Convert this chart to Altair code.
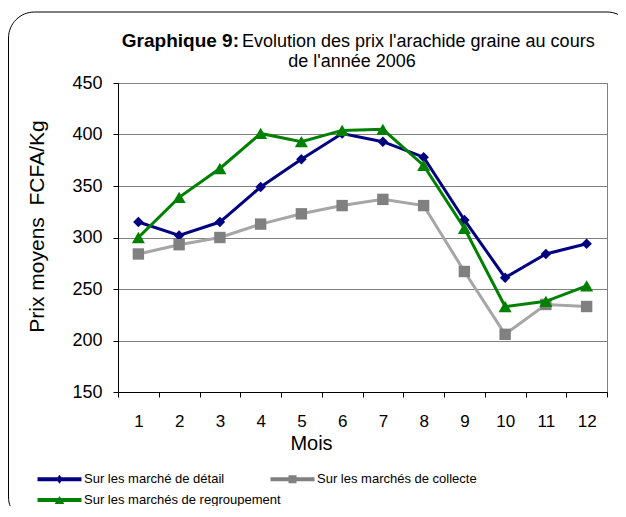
import altair as alt
import pandas as pd

# ---------------- data ----------------
months = list(range(1, 13))
series = [
    "Sur les marché de détail",
    "Sur les marchés de collecte",
    "Sur les marchés de regroupement",
]
detail = [315, 302, 315, 349, 376, 401, 393, 378, 317, 261, 284, 294]
collecte = [284, 293, 300, 313, 323, 331, 337, 331, 267, 206, 235, 233]
regroupement = [300, 339, 367, 401, 393, 404, 405, 370, 309, 233, 238, 253]
y_ticks = [150, 200, 250, 300, 350, 400, 450]

title_bold = "Graphique 9:"
title_line1 = "Evolution des prix l'arachide graine au cours"
title_line2 = "de l'année 2006"
x_title = "Mois"
y_title = "Prix moyens\u00a0\u00a0FCFA/Kg"

# ---------------- styles ----------------
FONT = "Liberation Sans"
line_colors = ["#000080", "#A6A6A6", "#008000"]
marker_colors = ["#000080", "#808080", "#008000"]
shapes = ["diamond", "square", "triangle-up"]
marker_sizes = [110, 130, 170]
legend_paths = [
    "M-5.5,-0.5L5.5,-0.5L5.5,0.5L-5.5,0.5Z M0,-1.1L0.8,0L0,1.1L-0.8,0Z",
    "M-5.5,-0.5L5.5,-0.5L5.5,0.5L-5.5,0.5Z M-1,-1L1,-1L1,1L-1,1Z",
    "M-5.5,-0.5L5.5,-0.5L5.5,0.5L-5.5,0.5Z M0,-1L1.2,1L-1.2,1Z",
]

rows = []
for name, vals in zip(series, [detail, collecte, regroupement]):
    for m, v in zip(months, vals):
        rows.append({"mois": m, "prix": v, "serie": name})
df = pd.DataFrame(rows)

x_tick_values = sorted(set([m - 0.5 for m in months] + [months[-1] + 0.5] + months))

x_enc = alt.X(
    "mois:Q",
    scale=alt.Scale(domain=[0.5, 12.5], nice=False, zero=False),
    axis=alt.Axis(
        values=x_tick_values,
        labelExpr="datum.value % 1 == 0 ? '' + datum.value : ''",
        tickOpacity={"condition": {"test": "datum.value % 1 == 0", "value": 0}, "value": 1},
        grid=False,
        labelOverlap=False,
        labelFlush=False,
        labelFontSize=17,
        labelBaseline="alphabetic",
        labelPadding=29,
        tickSize=5,
        tickColor="black",
        domainColor="black",
        labelColor="black",
        title=x_title,
        titleFontSize=20,
        titleFontWeight="normal",
        titleX=193,
        titleY=57,
        titleBaseline="alphabetic",
        titleAlign="center",
        titleColor="black",
    ),
)
y_enc = alt.Y(
    "prix:Q",
    scale=alt.Scale(domain=[150, 450], nice=False, zero=False),
    axis=alt.Axis(
        values=y_ticks,
        labelFontSize=18,
        labelPadding=11,
        tickSize=5,
        tickColor="black",
        domainColor="black",
        labelColor="black",
        gridColor="#808080",
        title=y_title,
        titleFontSize=21,
        titleFontWeight="normal",
        titleX=-75,
        titleY=143,
        titleAngle=-90,
        titleBaseline="alphabetic",
        titleAlign="center",
        titleColor="black",
    ),
)

layers = []

# outer rounded frame
frame = alt.Chart(pd.DataFrame({"k": [0]})).mark_rect(
    fill=None, stroke="black", strokeWidth=1, cornerRadius=26
).encode(
    x=alt.value(-109.5), x2=alt.value(515), y=alt.value(-71), y2=alt.value(440)
)
layers.append(frame)

for i, name in enumerate(series):
    base = alt.Chart(df).transform_filter(alt.datum.serie == name)
    layers.append(
        base.mark_line(strokeWidth=3, color=line_colors[i]).encode(x=x_enc, y=y_enc)
    )
    layers.append(
        base.mark_point(
            filled=True, shape=shapes[i], size=marker_sizes[i],
            color=marker_colors[i], opacity=1
        ).encode(x=x_enc, y=y_enc)
    )

legend_def = dict(
    title=None,
    orient="none",
    direction="horizontal",
    legendX=-65,
    legendY=389.5,
    columns=2,
    columnPadding=-11,
    rowPadding=7,
    padding=0,
    symbolSize=64,
    symbolStrokeWidth=0,
    labelOffset=18,
    labelFont=FONT,
    labelFontSize=13,
    labelColor="black",
    labelLimit=400,
)

# legend carrier (no visible marks)
legend_layer = alt.Chart(df).transform_filter("false").mark_point(
    filled=True, opacity=1
).encode(
    x=x_enc,
    y=y_enc,
    color=alt.Color(
        "serie:N",
        scale=alt.Scale(domain=series, range=marker_colors),
        legend=alt.Legend(**legend_def),
    ),
    shape=alt.Shape(
        "serie:N",
        scale=alt.Scale(domain=series, range=legend_paths),
        legend=alt.Legend(**legend_def),
    ),
)
layers.append(legend_layer)

# title texts
t1 = alt.Chart(pd.DataFrame({"t": [title_bold]})).mark_text(
    font=FONT, fontSize=19, fontWeight="bold", align="right", baseline="alphabetic", color="black"
).encode(x=alt.value(121), y=alt.value(-36), text="t:N")
t2 = alt.Chart(pd.DataFrame({"t": [title_line1]})).mark_text(
    font=FONT, fontSize=18, align="left", baseline="alphabetic", color="black"
).encode(x=alt.value(124), y=alt.value(-36), text="t:N")
t3 = alt.Chart(pd.DataFrame({"t": [title_line2]})).mark_text(
    font=FONT, fontSize=18, align="center", baseline="alphabetic", color="black"
).encode(x=alt.value(234), y=alt.value(-16), text="t:N")
layers += [t1, t2, t3]

chart = alt.layer(*layers).properties(
    width=489,
    height=309,
    padding={"left": 110, "top": 75, "right": 11, "bottom": 114},
    autosize=alt.AutoSizeParams(type="none"),
    background="white",
).configure_view(
    stroke="#808080", strokeWidth=1
).configure_axis(
    labelFont=FONT, titleFont=FONT
)

chart.save("out.html", embed_options={"renderer": "svg", "actions": False})
